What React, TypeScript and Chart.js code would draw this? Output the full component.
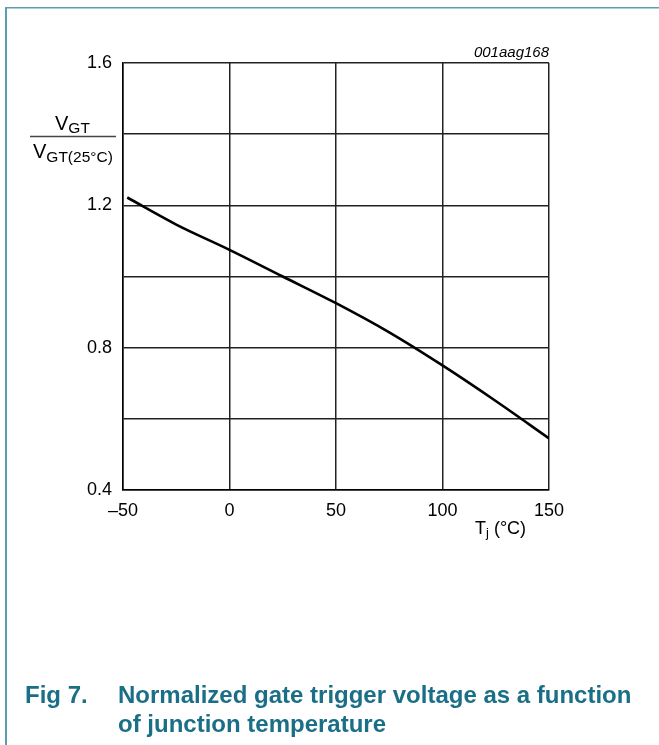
import React, { useEffect, useRef } from "react";
import { Chart, registerables } from "chart.js";

Chart.register(...registerables);

// ---- data ----
const tempC = [-48, -25, 0, 25, 50, 75, 100, 125, 150];
const vgtRatio = [1.222, 1.146, 1.075, 1.0, 0.925, 0.843, 0.75, 0.65, 0.545];
const xTickValues = [-50, 0, 50, 100, 150];
const yLabelValues = [0.4, 0.8, 1.2, 1.6];
const figId = "001aag168";
const captionNum = "Fig 7.";
const captionLines = ["Normalized gate trigger voltage as a function", "of junction temperature"];

const FONT = "'Liberation Sans', Arial, Helvetica, sans-serif";
const W = 659;
const H = 745;

const textPlugin = {
  id: "figText",
  afterDraw(chart: any) {
    const ctx = chart.ctx as CanvasRenderingContext2D;
    ctx.save();
    // frame
    ctx.fillStyle = "#5a9fb0";
    ctx.fillRect(5, 7, 2, H - 7);
    ctx.fillRect(5, 7, W - 5, 1.5);

    ctx.fillStyle = "#000";
    ctx.textBaseline = "alphabetic";
    // figure id
    ctx.font = `italic 15px ${FONT}`;
    ctx.textAlign = "right";
    ctx.fillText(figId, 549, 57);

    // y-axis title (fraction)
    ctx.textAlign = "left";
    ctx.font = `20px ${FONT}`;
    ctx.fillText("V", 55, 129.5);
    const vw = ctx.measureText("V").width;
    ctx.font = `15.5px ${FONT}`;
    ctx.fillText("GT", 55 + vw, 133);
    ctx.strokeStyle = "#444";
    ctx.lineWidth = 1.5;
    ctx.beginPath();
    ctx.moveTo(30, 136.5);
    ctx.lineTo(116, 136.5);
    ctx.stroke();
    ctx.font = `20px ${FONT}`;
    ctx.fillText("V", 33, 158);
    ctx.font = `15.5px ${FONT}`;
    ctx.fillText("GT(25\u00B0C)", 33 + vw, 161.5);

    // x-axis title
    ctx.font = `18px ${FONT}`;
    ctx.fillText("T", 475, 534);
    const tw = ctx.measureText("T").width;
    ctx.font = `13px ${FONT}`;
    ctx.fillText("j", 475 + tw, 537);
    const jw = ctx.measureText("j").width;
    ctx.font = `18px ${FONT}`;
    ctx.fillText(" (\u00B0C)", 475 + tw + jw, 534);

    // caption
    ctx.fillStyle = "#1a6f87";
    ctx.font = `bold 24px ${FONT}`;
    ctx.fillText(captionNum, 25, 703);
    ctx.fillText(captionLines[0], 118, 703);
    ctx.fillText(captionLines[1], 118, 732);
    ctx.restore();
  },
};

export default function App() {
  const ref = useRef<HTMLCanvasElement | null>(null);

  useEffect(() => {
    if (!ref.current) return;
    const chart = new Chart(ref.current, {
      type: "line",
      data: {
        datasets: [
          {
            data: tempC.map((x, i) => ({ x, y: vgtRatio[i] })),
            borderColor: "#000",
            borderWidth: 2.6,
            pointRadius: 0,
            cubicInterpolationMode: "monotone",
            fill: false,
          },
        ],
      },
      options: {
        responsive: false,
        animation: false,
        layout: { padding: { left: 0, top: 63, right: 110, bottom: 0 } },
        plugins: { legend: { display: false }, tooltip: { enabled: false } },
        scales: {
          x: {
            type: "linear",
            min: -50,
            max: 150,
            afterBuildTicks: (s: any) => {
              s.ticks = xTickValues.map((v) => ({ value: v }));
            },
            afterFit: (s: any) => {
              s.height = H - 490;
            },
            ticks: {
              font: { size: 18, family: FONT },
              color: "#000",
              padding: 10,
              maxRotation: 0,
              callback: (v: any) => (v < 0 ? "\u2013" + Math.abs(v) : String(v)),
            },
            grid: { color: "#222", lineWidth: 1.5, drawTicks: false },
            border: { display: true, color: "#000", width: 1.5 },
          },
          y: {
            type: "linear",
            min: 0.4,
            max: 1.6,
            ticks: {
              stepSize: 0.2,
              font: { size: 18, family: FONT },
              color: "#000",
              padding: 11,
              callback: (v: any) => {
                const hit = yLabelValues.find((l) => Math.abs(l - v) < 1e-6);
                return hit !== undefined ? hit.toFixed(1) : "";
              },
            },
            afterFit: (s: any) => {
              s.width = 123;
            },
            grid: { color: "#222", lineWidth: 1.5, drawTicks: false },
            border: { display: true, color: "#000", width: 1.5 },
          },
        },
      } as any,
      plugins: [textPlugin],
    });
    return () => chart.destroy();
  }, []);

  return (
    <div style={{ position: "absolute", left: 0, top: 0, width: W, height: H, background: "#fff" }}>
      <canvas ref={ref} width={W} height={H} style={{ width: W, height: H, display: "block" }} />
    </div>
  );
}
